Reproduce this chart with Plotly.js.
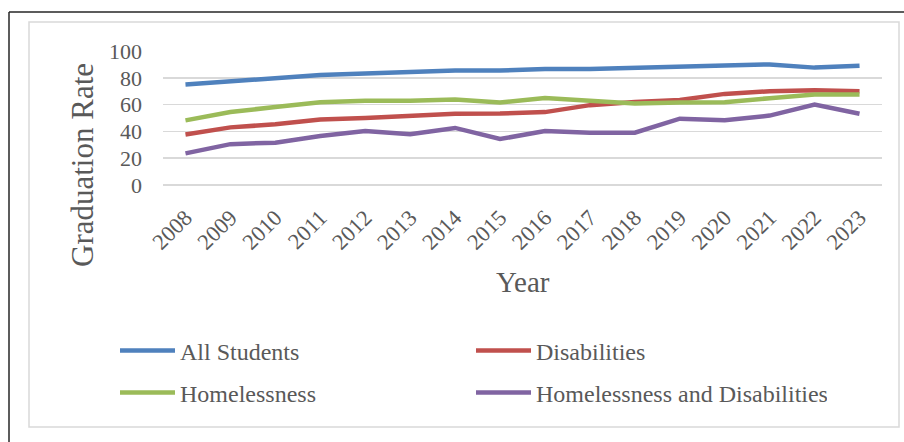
<!DOCTYPE html>
<html>
<head>
<meta charset="utf-8">
<script src="https://cdn.plot.ly/plotly-3.0.1.min.js"></script>
<style>
html,body{margin:0;padding:0;background:#fff;}
#chart{width:904px;height:442px;}
</style>
</head>
<body>
<div id="chart"></div>
<script>
const years = ["2008","2009","2010","2011","2012","2013","2014","2015","2016","2017","2018","2019","2020","2021","2022","2023"];
const allStudents = [75, 77.5, 79.5, 82, 83.3, 84.5, 85.5, 85.5, 86.5, 86.5, 87.6, 88, 89.2, 90, 87.6, 88.9];
const disabilities = [37.7, 43, 45.3, 48.8, 50, 52, 53.2, 53.3, 54.4, 59.6, 62, 63.5, 68, 70, 70.8, 70];
const homelessness = [48.2, 54.5, 58.2, 61.8, 62.8, 62.8, 63.8, 61.5, 65, 62.5, 60.8, 61.5, 61.7, 64.8, 67.5, 67.5];
const homelessDisab = [23.6, 30.5, 31.6, 36.5, 40.3, 37.8, 42.6, 34.3, 40.3, 39, 39, 49.5, 48.3, 51.8, 60, 53.2];
const seriesNames = ["All Students", "Disabilities", "Homelessness", "Homelessness and Disabilities"];
const yTicks = [0, 20, 40, 60, 80, 100];

const W = 904, H = 442;
const M = {l: 163, r: 22, t: 51, b: 257};
const pw = W - M.l - M.r, ph = H - M.t - M.b;
const px = v => (v - M.l) / pw;
const py = v => (H - M.b - v) / ph;

const FONT = '"Liberation Serif", "Times New Roman", serif';
const GREY = '#595959';

function tr(name, y, color, legend) {
  return {x: years, y: y, name: name, type: 'scatter', mode: 'lines',
    line: {color: color, width: 4.5, shape: 'linear'}, legend: legend, hoverinfo: 'skip'};
}

const data = [
  tr(seriesNames[0], allStudents, '#4F81BD', 'legend'),
  tr(seriesNames[1], disabilities, '#C0504D', 'legend'),
  tr(seriesNames[2], homelessness, '#9BBB59', 'legend2'),
  tr(seriesNames[3], homelessDisab, '#8064A2', 'legend2')
];

const legendCommon = {
  orientation: 'h', xref: 'container', yref: 'container',
  xanchor: 'left', yanchor: 'middle',
  entrywidth: 286, entrywidthmode: 'pixels', itemwidth: 55,
  font: {family: FONT, size: 24, color: GREY},
  bgcolor: 'rgba(0,0,0,0)', borderwidth: 0, traceorder: 'normal'
};

const layout = {
  width: W, height: H,
  margin: M,
  paper_bgcolor: '#fff', plot_bgcolor: '#fff',
  showlegend: true,
  legend: Object.assign({}, legendCommon, {x: 115 / W, y: 1 - 351 / H}),
  legend2: Object.assign({}, legendCommon, {x: 115 / W, y: 1 - 393 / H}),
  xaxis: {
    type: 'category', range: [-0.5, years.length - 0.5],
    showgrid: false, zeroline: false, showline: false, ticks: '',
    tickangle: -45, ticklabelstandoff: 14,
    tickfont: {family: FONT, size: 22.5, color: GREY}
  },
  yaxis: {
    range: [0, 100], tickvals: yTicks, ticktext: yTicks.map(String),
    showgrid: true, gridcolor: '#d9d9d9', gridwidth: 1.5,
    zeroline: true, zerolinecolor: '#d9d9d9', zerolinewidth: 1.5,
    showline: false, ticks: '', ticklabelstandoff: 20,
    tickfont: {family: FONT, size: 22, color: GREY}
  },
  annotations: [
    {text: 'Graduation Rate', xref: 'paper', yref: 'paper', x: px(82), y: py(165),
     xanchor: 'center', yanchor: 'middle', textangle: -90, showarrow: false,
     font: {family: FONT, size: 31, color: GREY}},
    {text: 'Year', xref: 'paper', yref: 'paper', x: px(523), y: py(282),
     xanchor: 'center', yanchor: 'middle', showarrow: false,
     font: {family: FONT, size: 29, color: GREY}}
  ],
  shapes: [
    {type: 'rect', xref: 'paper', yref: 'paper', x0: px(29), x1: px(899), y0: py(427), y1: py(22),
     line: {color: '#d9d9d9', width: 1.5}, layer: 'below'},
    {type: 'line', xref: 'paper', yref: 'paper', x0: px(9), x1: px(904), y0: py(12), y1: py(12),
     line: {color: '#262626', width: 1.5}, layer: 'below'},
    {type: 'line', xref: 'paper', yref: 'paper', x0: px(9), x1: px(9), y0: py(12), y1: py(442),
     line: {color: '#262626', width: 1.5}, layer: 'below'}
  ]
};

Plotly.newPlot('chart', data, layout, {staticPlot: true, displayModeBar: false});
</script>
</body>
</html>
